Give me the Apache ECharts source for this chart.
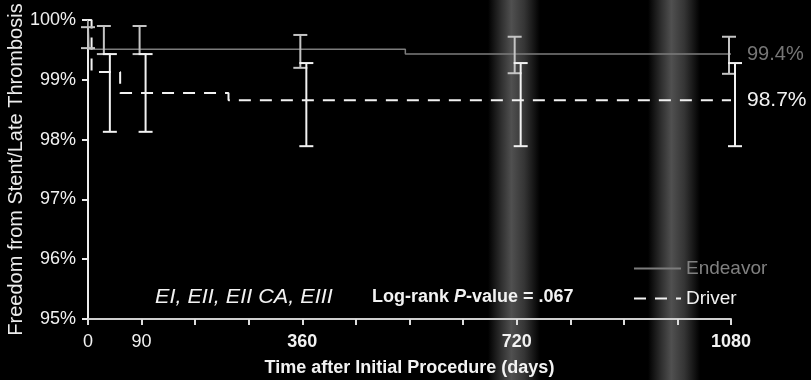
<!DOCTYPE html>
<html>
<head>
<meta charset="utf-8">
<script src="https://cdn.jsdelivr.net/npm/echarts@6/dist/echarts.min.js"></script>
<style>
  html, body { margin: 0; padding: 0; background: #000; }
  #chart { width: 811px; height: 380px; }
</style>
</head>
<body>
<div id="chart"></div>
<script>
// Kaplan-Meier style freedom from stent/late thrombosis, two stents
const xLabelDays = [0, 90, 360, 720, 1080];
const yTicks = [95, 96, 97, 98, 99, 100];

// step curves: [day, % event free]
const endeavorCurve = [[0, 100], [2, 99.51], [533, 99.43], [1080, 99.43]];
const driverCurve = [[0, 100], [6, 99.13], [54, 98.78], [236, 98.66], [1080, 98.66]];

// confidence bars: [day, lower, upper]
const endeavorCI = [[0, 99.53, 99.88], [30, 99.43, 99.90], [90, 99.43, 99.90], [360, 99.20, 99.75], [720, 99.11, 99.72], [1080, 99.10, 99.72]];
const driverCI = [[30, 98.13, 99.43], [90, 98.13, 99.43], [360, 97.89, 99.28], [720, 97.89, 99.28], [1080, 97.89, 99.28]];

const FONT = "'Liberation Sans', Arial, Helvetica, sans-serif";
const ENDEAVOR_LINE = '#7c7c7c';
const ENDEAVOR_BAR = '#c4c4c4';
const DRIVER = '#f2f2f2';

function ciRenderer(offset, color) {
  return function (params, api) {
    const day = api.value(0);
    const top = api.coord([day, api.value(2)]);
    const bot = api.coord([day, api.value(1)]);
    const cx = top[0] + (day === 0 ? 0 : offset);
    const hw = 7;
    const st = { stroke: color, lineWidth: 2 };
    return {
      type: 'group',
      children: [
        { type: 'line', shape: { x1: cx, y1: top[1], x2: cx, y2: bot[1] }, style: st },
        { type: 'line', shape: { x1: cx - hw, y1: top[1], x2: cx + hw, y2: top[1] }, style: st },
        { type: 'line', shape: { x1: cx - hw, y1: bot[1], x2: cx + hw, y2: bot[1] }, style: st }
      ]
    };
  };
}

function haze(x, w) {
  return {
    type: 'rect', z: -10, silent: true,
    shape: { x: x, y: 0, width: w, height: 380 },
    style: {
      fill: {
        type: 'linear', x: 0, y: 0, x2: 1, y2: 0,
        colorStops: [
          { offset: 0, color: 'rgba(210,210,210,0)' },
          { offset: 0.25, color: 'rgba(210,210,210,0.22)' },
          { offset: 0.45, color: 'rgba(210,210,210,0.38)' },
          { offset: 0.7, color: 'rgba(210,210,210,0.25)' },
          { offset: 1, color: 'rgba(210,210,210,0)' }
        ]
      }
    }
  };
}

const chart = echarts.init(document.getElementById('chart'), null, { renderer: 'canvas' });

chart.setOption({
  backgroundColor: '#000',
  animation: false,
  textStyle: { fontFamily: FONT },
  grid: { left: 88, right: 80, top: 20, bottom: 61, containLabel: false, outerBoundsMode: 'none' },
  legend: {
    orient: 'vertical',
    left: 633,
    top: 259,
    padding: 0,
    itemWidth: 47,
    itemHeight: 14,
    itemGap: 11,
    itemStyle: { opacity: 0 },
    textStyle: { fontFamily: FONT, fontSize: 19 },
    data: [
      { name: 'Endeavor', textStyle: { color: '#808080' } },
      { name: 'Driver', textStyle: { color: DRIVER } }
    ]
  },
  xAxis: {
    type: 'value',
    min: 0,
    max: 1080,
    interval: 90,
    name: 'Time after Initial Procedure (days)',
    nameLocation: 'middle',
    nameGap: 40,
    nameMoveOverlap: false,
    nameTextStyle: { color: '#f2f2f2', fontSize: 18, fontWeight: 'bold', fontFamily: FONT },
    axisLine: { lineStyle: { color: '#cfcfcf', width: 2 } },
    axisTick: { length: 6, lineStyle: { color: '#dcdcdc', width: 2 } },
    splitLine: { show: false },
    axisLabel: {
      margin: 14,
      color: '#f2f2f2',
      fontSize: 18,
      fontFamily: FONT,
      formatter: function (v) {
        if (xLabelDays.indexOf(v) < 0) return '';
        return v >= 360 ? '{b|' + v + '}' : String(v);
      },
      rich: { b: { fontWeight: 'bold', fontSize: 18, color: '#f2f2f2', fontFamily: FONT } }
    }
  },
  yAxis: {
    type: 'value',
    min: yTicks[0],
    max: yTicks[yTicks.length - 1],
    interval: 1,
    name: 'Freedom from Stent/Late Thrombosis',
    nameLocation: 'middle',
    nameGap: 62,
    nameMoveOverlap: false,
    nameRotate: 90,
    nameTextStyle: { color: '#ececec', fontSize: 20, fontFamily: FONT },
    axisLine: { show: true, lineStyle: { color: '#ececec', width: 2 } },
    axisTick: { show: true, length: 6, lineStyle: { color: '#ececec', width: 2 } },
    splitLine: { show: false },
    axisLabel: { margin: 12, color: '#f2f2f2', fontSize: 18, fontFamily: FONT, formatter: '{value}%' }
  },
  graphic: [
    haze(488, 52),
    haze(648, 52),
    {
      type: 'text', left: 155, top: 287, scaleX: 1.08,
      style: { text: 'EI, EII, EII CA, EIII', fill: '#f2f2f2', font: 'italic 20px ' + FONT }
    },
    {
      type: 'text', left: 372, top: 288,
      style: {
        text: '{b|Log-rank }{bi|P}{b|-value = .067}',
        rich: {
          b: { fill: '#f2f2f2', fontWeight: 'bold', fontSize: 18, fontFamily: FONT },
          bi: { fill: '#f2f2f2', fontWeight: 'bold', fontStyle: 'italic', fontSize: 18, fontFamily: FONT }
        }
      }
    }
  ],
  series: [
    {
      name: 'Endeavor',
      type: 'line',
      step: 'end',
      symbol: 'none',
      data: endeavorCurve,
      lineStyle: { color: ENDEAVOR_LINE, width: 1.5 },
      itemStyle: { color: ENDEAVOR_LINE },
      endLabel: {
        show: true, distance: 16, color: '#767676', fontSize: 20, fontFamily: FONT,
        formatter: function (p) { return p.value[1].toFixed(1) + '%'; }
      },
      z: 3
    },
    {
      name: 'Driver',
      type: 'line',
      step: 'end',
      symbol: 'none',
      data: driverCurve,
      lineStyle: { color: DRIVER, width: 2, type: [12, 9] },
      itemStyle: { color: DRIVER },
      endLabel: {
        show: true, distance: 16, color: DRIVER, fontSize: 21, fontFamily: FONT,
        formatter: function (p) { return p.value[1].toFixed(1) + '%'; }
      },
      z: 3
    },
    {
      name: 'Endeavor CI',
      type: 'custom',
      data: endeavorCI,
      encode: { x: 0, y: [1, 2] },
      renderItem: ciRenderer(-2, ENDEAVOR_BAR),
      z: 4
    },
    {
      name: 'Driver CI',
      type: 'custom',
      data: driverCI,
      encode: { x: 0, y: [1, 2] },
      renderItem: ciRenderer(4, DRIVER),
      z: 5
    }
  ]
});
</script>
</body>
</html>
